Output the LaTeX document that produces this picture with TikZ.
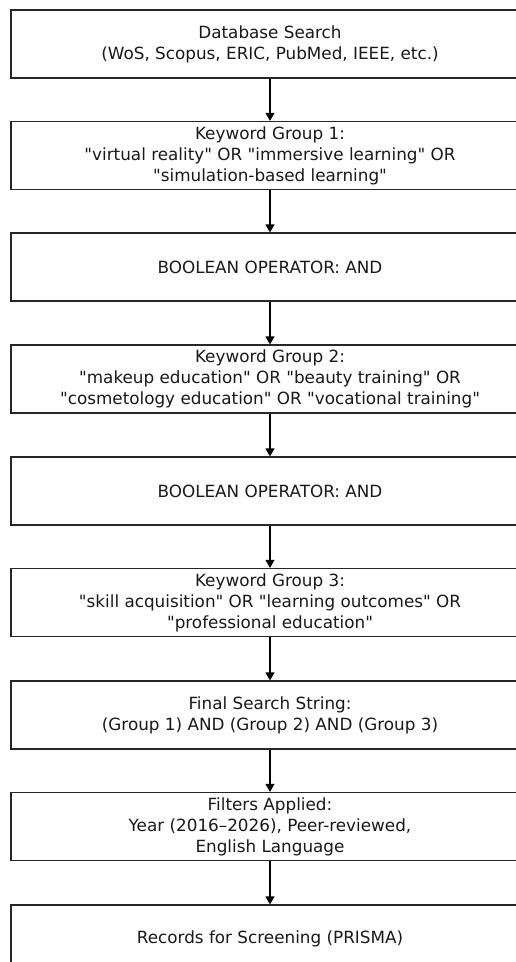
\documentclass[tikz,border=0pt]{standalone}
\usepackage{fontspec}
\setmainfont{DejaVu Sans}[Ligatures=TeXOff]
\usetikzlibrary{arrows.meta}
\begin{document}
\begin{tikzpicture}[x=1pt,y=-1pt,
  box/.style={draw=black!85, line width=1.3pt, fill=white, minimum width=518pt, minimum height=68pt,
    align=center, inner sep=0pt, font=\fontsize{16.8}{21}\selectfont, text=black!90},
  arr/.style={line width=1.3pt, -{Triangle[width=9pt,length=8pt]}}]
\useasboundingbox (0,0) rectangle (516,962);
\clip (0,0) rectangle (516,962);
\fill[white] (0,0) rectangle (516,962);
\node[box] (b1) at (270,44) {Database Search\\(WoS, Scopus, ERIC, PubMed, IEEE, etc.)};
\node[box] (b2) at (270,155.5) {Keyword Group 1:\\"virtual reality" OR "immersive learning" OR\\"simulation-based learning"};
\node[box] (b3) at (270,267) {BOOLEAN OPERATOR: AND};
\node[box] (b4) at (270,379) {Keyword Group 2:\\"makeup education" OR "beauty training" OR\\"cosmetology education" OR "vocational training"};
\node[box] (b5) at (270,491) {BOOLEAN OPERATOR: AND};
\node[box] (b6) at (270,602.5) {Keyword Group 3:\\"skill acquisition" OR "learning outcomes" OR\\"professional education"};
\node[box] (b7) at (270,715) {Final Search String:\\(Group 1) AND (Group 2) AND (Group 3)};
\node[box] (b8) at (270,826.5) {Filters Applied:\\Year (2016–2026), Peer-reviewed,\\English Language};
\node[box] (b9) at (270,939) {Records for Screening (PRISMA)};
\foreach \a/\b in {b1/b2,b2/b3,b3/b4,b4/b5,b5/b6,b6/b7,b7/b8,b8/b9}
  \draw[arr] (\a.south) -- (\b.north);
\end{tikzpicture}
\end{document}
